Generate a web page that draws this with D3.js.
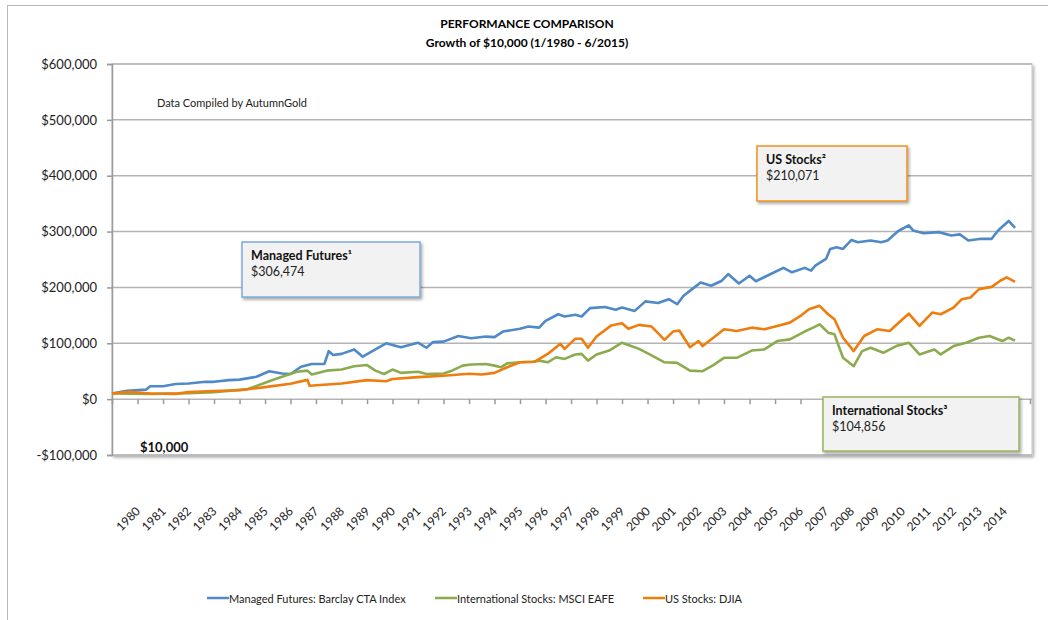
<!DOCTYPE html>
<html>
<head>
<meta charset="utf-8">
<script src="https://cdn.jsdelivr.net/npm/d3@7"></script>
<style>
  body { margin: 0; background: #fff; }
  svg { font-family: Lato, "Open Sans", sans-serif; display: block; }
</style>
</head>
<body>
<script>
// values, in $ thousands, [month, value]
const managedFutures = [
  ["1980-01", 10], ["1980-08", 15], ["1981-05", 17], ["1981-07", 23], ["1982-01", 23],
  ["1982-07", 27], ["1983-01", 28], ["1983-09", 31], ["1984-01", 31], ["1984-08", 34],
  ["1985-01", 35], ["1985-09", 40], ["1986-03", 50], ["1986-09", 46], ["1987-01", 45],
  ["1987-06", 58], ["1987-11", 63], ["1988-05", 63], ["1988-07", 86], ["1988-09", 79],
  ["1989-01", 81], ["1989-07", 89], ["1989-11", 76], ["1990-05", 89], ["1990-10", 100],
  ["1991-01", 97], ["1991-05", 93], ["1992-01", 101], ["1992-05", 92], ["1992-08", 102],
  ["1993-01", 103], ["1993-08", 113], ["1994-02", 109], ["1994-09", 112], ["1995-01", 111],
  ["1995-05", 121], ["1996-01", 126], ["1996-05", 130], ["1996-10", 128], ["1997-01", 140],
  ["1997-07", 152], ["1997-10", 148], ["1998-03", 151], ["1998-06", 148], ["1998-10", 163],
  ["1999-05", 165], ["1999-10", 160], ["2000-01", 164], ["2000-07", 158], ["2000-12", 175],
  ["2001-06", 172], ["2001-11", 179], ["2002-03", 170], ["2002-06", 185], ["2002-10", 197],
  ["2003-02", 209], ["2003-07", 203], ["2003-12", 212], ["2004-03", 224], ["2004-08", 207],
  ["2005-01", 221], ["2005-04", 211], ["2005-11", 224], ["2006-05", 235], ["2006-09", 227],
  ["2007-03", 235], ["2007-06", 230], ["2007-08", 239], ["2008-01", 251], ["2008-03", 269],
  ["2008-06", 272], ["2008-09", 269], ["2009-01", 285], ["2009-04", 281], ["2009-10", 284],
  ["2010-03", 281], ["2010-06", 284], ["2010-11", 301], ["2011-04", 311], ["2011-06", 302],
  ["2011-11", 297], ["2012-06", 299], ["2012-12", 293], ["2013-04", 295], ["2013-08", 284],
  ["2014-02", 287], ["2014-07", 287], ["2014-10", 302], ["2015-03", 319], ["2015-06", 306.474]
];

const intlStocks = [
  ["1980-01", 10], ["1981-07", 9.5], ["1983-01", 10.5], ["1984-01", 12.5], ["1985-05", 18],
  ["1986-03", 32], ["1986-09", 40], ["1987-04", 49], ["1987-09", 51], ["1987-11", 44],
  ["1988-06", 51], ["1989-01", 53], ["1989-07", 59], ["1990-01", 61], ["1990-05", 51],
  ["1990-09", 45], ["1991-01", 53], ["1991-05", 47], ["1992-01", 49], ["1992-05", 45],
  ["1993-01", 46], ["1993-05", 51], ["1993-10", 60], ["1994-02", 62], ["1994-09", 63],
  ["1995-01", 60], ["1995-04", 57], ["1995-07", 64], ["1996-01", 66], ["1996-07", 67],
  ["1996-10", 69], ["1997-02", 66], ["1997-06", 75], ["1997-10", 72], ["1998-03", 80],
  ["1998-06", 81], ["1998-09", 69], ["1999-01", 80], ["1999-07", 87], ["2000-01", 101],
  ["2000-04", 97], ["2000-09", 90], ["2001-02", 80], ["2001-09", 66], ["2002-03", 65],
  ["2002-09", 51], ["2003-03", 50], ["2003-08", 61], ["2004-01", 74], ["2004-07", 74],
  ["2005-02", 87], ["2005-08", 89], ["2006-02", 104], ["2006-08", 107], ["2007-03", 121],
  ["2007-07", 128], ["2007-10", 134], ["2008-02", 119], ["2008-05", 116], ["2008-09", 74],
  ["2009-02", 59], ["2009-06", 86], ["2009-10", 92], ["2010-04", 83], ["2010-10", 95],
  ["2011-04", 101], ["2011-09", 80], ["2012-04", 89], ["2012-07", 80], ["2013-01", 95],
  ["2013-07", 101], ["2014-01", 110], ["2014-06", 113], ["2014-12", 104], ["2015-03", 110],
  ["2015-06", 104.856]
];

const usStocks = [
  ["1980-01", 10], ["1980-09", 13], ["1981-07", 10], ["1982-07", 9.5], ["1983-01", 12.5],
  ["1984-01", 14.5], ["1985-01", 16], ["1986-01", 21.5], ["1987-01", 27.5], ["1987-09", 34.5],
  ["1987-10", 24], ["1989-01", 28], ["1990-01", 34], ["1990-10", 32], ["1991-01", 36],
  ["1992-01", 39.5], ["1993-01", 42], ["1994-01", 45.5], ["1994-07", 44], ["1995-01", 47],
  ["1995-07", 57], ["1996-01", 66], ["1996-08", 67], ["1997-02", 81], ["1997-08", 99],
  ["1997-10", 90], ["1998-03", 108], ["1998-06", 108], ["1998-09", 92], ["1999-01", 112],
  ["1999-08", 132], ["2000-01", 136], ["2000-04", 126], ["2000-09", 133], ["2001-03", 130],
  ["2001-09", 106], ["2002-01", 121], ["2002-04", 123], ["2002-09", 93], ["2003-01", 104],
  ["2003-03", 95], ["2003-08", 110], ["2004-01", 125], ["2004-07", 122], ["2005-02", 128],
  ["2005-08", 125], ["2006-02", 131], ["2006-08", 137], ["2007-01", 149], ["2007-05", 161],
  ["2007-10", 167], ["2008-02", 152], ["2008-05", 143], ["2008-09", 110], ["2009-02", 86],
  ["2009-07", 113], ["2010-01", 125], ["2010-07", 122], ["2011-01", 143], ["2011-04", 153],
  ["2011-09", 131], ["2012-03", 155], ["2012-07", 152], ["2013-01", 164], ["2013-05", 179],
  ["2013-09", 182], ["2014-01", 197], ["2014-07", 201], ["2014-11", 212], ["2015-02", 218],
  ["2015-06", 210.071]
];

const seriesNames = ["Managed Futures: Barclay CTA Index", "International Stocks: MSCI EAFE", "US Stocks: DJIA"];
const seriesColors = ["#4f89c8", "#8cab4f", "#ef7d0e"];
const yTicks = [-100000, 0, 100000, 200000, 300000, 400000, 500000, 600000];
const yearLabels = d3.range(1980, 2015).map(String);

const width = 1048, height = 620;
const parse = d3.timeParse("%Y-%m");

const svg = d3.select("body").append("svg")
    .attr("width", width)
    .attr("height", height);

const defs = svg.append("defs");
const shadow = defs.append("filter").attr("id", "shadow")
    .attr("x", "-10%").attr("y", "-10%").attr("width", "130%").attr("height", "140%");
shadow.append("feDropShadow")
    .attr("dx", 1.5).attr("dy", 2).attr("stdDeviation", 1.5)
    .attr("flood-color", "#000").attr("flood-opacity", 0.35);

// outer chart frame (runs off the right / bottom of the picture)
svg.append("rect")
    .attr("x", 7.5).attr("y", 5.5)
    .attr("width", 1200).attr("height", 800)
    .attr("fill", "none").attr("stroke", "#b8b8b8");

const x = d3.scaleTime()
    .domain([new Date(1980, 0, 1), new Date(2016, 0, 1)])
    .range([112, 1030]);

const y = d3.scaleLinear()
    .domain([-100000, 600000])
    .range([455, 64]);

// plot area with its shadow
svg.append("rect")
    .attr("x", 112).attr("y", 64)
    .attr("width", 920).attr("height", 391)
    .attr("fill", "#fff")
    .attr("stroke", "#c4c4c4")
    .attr("filter", "url(#shadow)");

// gridlines
svg.append("g")
    .selectAll("line")
    .data(yTicks)
    .enter().append("line")
    .attr("x1", 112).attr("x2", 1032)
    .attr("y1", d => y(d)).attr("y2", d => y(d))
    .attr("stroke", "#b4b4b4")
    .attr("stroke-width", 1.5);

// y axis
const yAxis = svg.append("g")
    .attr("transform", "translate(112,0)")
    .call(d3.axisLeft(y)
        .tickValues(yTicks)
        .tickSize(5)
        .tickPadding(10)
        .tickFormat(d => (d < 0 ? "-$" : "$") + d3.format(",")(Math.abs(d))));
yAxis.select(".domain").attr("stroke", "#9a9a9a").attr("stroke-width", 1.5);
yAxis.selectAll(".tick line").attr("stroke", "#9a9a9a").attr("stroke-width", 1.5);
yAxis.selectAll("text")
    .attr("font-size", 13)
    .attr("font-family", "Lato, sans-serif")
    .attr("fill", "#222");

// x axis sitting on the $0 line, ticks only
const xAxis = svg.append("g")
    .attr("transform", `translate(0,${y(0)})`)
    .call(d3.axisBottom(x)
        .ticks(d3.timeYear.every(1))
        .tickSize(5)
        .tickFormat(""));
xAxis.select(".domain").remove();
xAxis.selectAll(".tick line").attr("stroke", "#9a9a9a").attr("stroke-width", 1.5);

// year labels, slanted
svg.append("g")
    .selectAll("text")
    .data(yearLabels)
    .enter().append("text")
    .attr("transform", d => `translate(${x(new Date(+d, 0, 1)) + 29},512) rotate(-45)`)
    .attr("text-anchor", "end")
    .attr("font-size", 12)
    .attr("fill", "#222")
    .text(d => d);

// the three lines
const line = d3.line()
    .x(d => x(parse(d[0])))
    .y(d => y(d[1] * 1000));

[managedFutures, intlStocks, usStocks].forEach((s, i) => {
    svg.append("path")
        .datum(s)
        .attr("d", line)
        .attr("fill", "none")
        .attr("stroke", seriesColors[i])
        .attr("stroke-width", 2.6)
        .attr("stroke-linejoin", "round");
});

// titles and notes
svg.append("text")
    .attr("x", 527).attr("y", 28)
    .attr("text-anchor", "middle")
    .attr("font-size", 12).attr("font-weight", "bold")
    .text("PERFORMANCE COMPARISON");
svg.append("text")
    .attr("x", 527).attr("y", 47)
    .attr("text-anchor", "middle")
    .attr("font-size", 12).attr("font-weight", "bold")
    .text("Growth of $10,000 (1/1980 - 6/2015)");

svg.append("text")
    .attr("x", 157).attr("y", 107)
    .attr("font-size", 11)
    .attr("fill", "#222")
    .text("Data Compiled by AutumnGold");

svg.append("text")
    .attr("x", 140).attr("y", 452)
    .attr("font-size", 13).attr("font-weight", "bold")
    .attr("fill", "#111")
    .text("$10,000");

// callout boxes
const callouts = [
    { title: "Managed Futures¹", value: "$306,474", x: 242, y: 242, w: 178, h: 55, color: "#7ea8d8" },
    { title: "US Stocks²", value: "$210,071", x: 757, y: 146, w: 150, h: 55, color: "#f0901e" },
    { title: "International Stocks³", value: "$104,856", x: 823, y: 397, w: 196, h: 54, color: "#9bb35c" }
];

const box = svg.append("g").selectAll("g")
    .data(callouts)
    .enter().append("g")
    .attr("transform", d => `translate(${d.x},${d.y})`);
box.append("rect")
    .attr("width", d => d.w).attr("height", d => d.h)
    .attr("fill", "#f2f2f2")
    .attr("stroke", d => d.color)
    .attr("stroke-width", 1.5)
    .attr("filter", "url(#shadow)");
box.append("text")
    .attr("x", 9).attr("y", 18)
    .attr("font-size", 12.5).attr("font-weight", "bold")
    .attr("fill", "#111")
    .text(d => d.title);
box.append("text")
    .attr("x", 9).attr("y", 34)
    .attr("font-size", 12.5)
    .attr("fill", "#222")
    .text(d => d.value);

// legend
const legendX = [207, 435, 643];
const legend = svg.append("g").selectAll("g")
    .data(seriesNames)
    .enter().append("g")
    .attr("transform", (d, i) => `translate(${legendX[i]},598)`);
legend.append("line")
    .attr("x1", 0).attr("x2", 22)
    .attr("stroke", (d, i) => seriesColors[i])
    .attr("stroke-width", 2.5);
legend.append("text")
    .attr("x", 22).attr("y", 4.5)
    .attr("font-size", 11)
    .attr("fill", "#222")
    .text(d => d);
</script>
</body>
</html>
